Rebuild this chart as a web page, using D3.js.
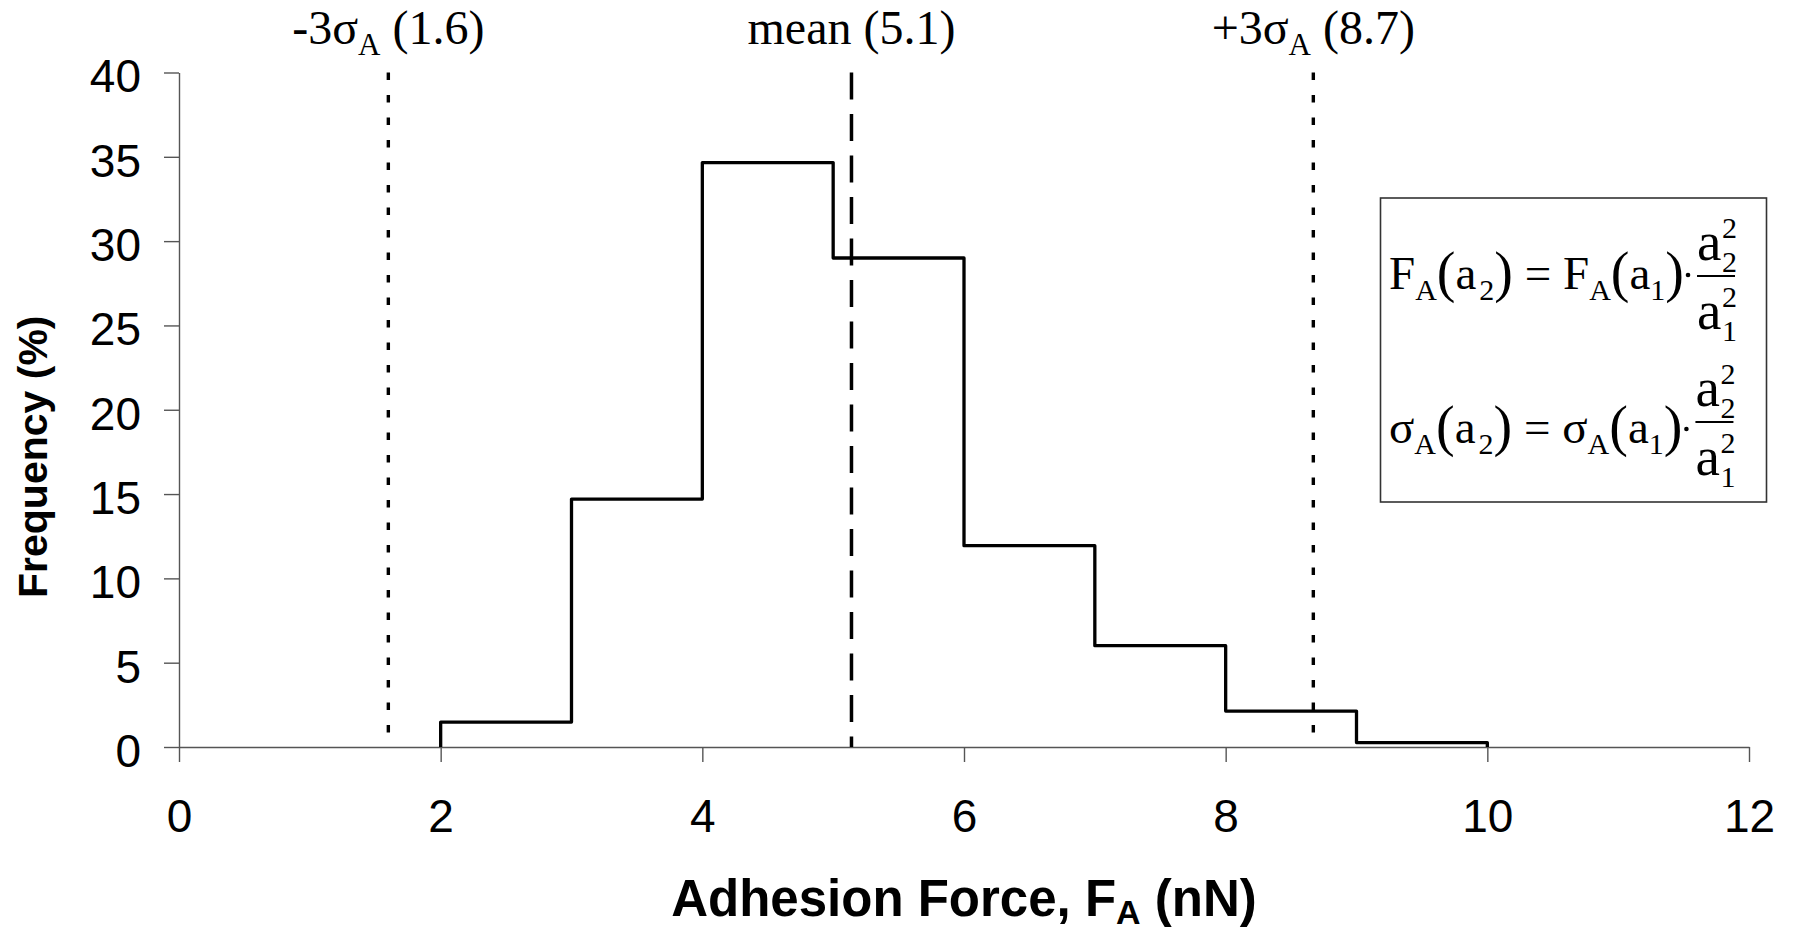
<!DOCTYPE html>
<html>
<head>
<meta charset="utf-8">
<script src="https://cdn.jsdelivr.net/npm/d3@7"></script>
<style>
  html, body { margin: 0; padding: 0; background: #fff; }
  svg { display: block; }
</style>
</head>
<body>
<svg id="chart" width="1802" height="931"></svg>
<script>
// ---- data ----
const binStarts = [2, 3, 4, 5, 6, 7, 8, 9];
const binEnd = 10;
const frequency = [1.48, 14.7, 34.66, 29.0, 11.94, 6.01, 2.13, 0.26];
const xTicks = [0, 2, 4, 6, 8, 10, 12];
const yTicks = [0, 5, 10, 15, 20, 25, 30, 35, 40];
const refValues = [1.6, 5.14, 8.67];
const refNames = ["-3σ", "mean", "+3σ"];
const refShown = ["1.6", "5.1", "8.7"];
const refSub = ["A", "", "A"];
const xTitle = ["Adhesion Force, F", "A", " (nN)"];
const yTitle = "Frequency (%)";

// ---- layout ----
const svg = d3.select("#chart");
const x = d3.scaleLinear().domain([0, 12]).range([179, 1749]);
const y = d3.scaleLinear().domain([0, 40]).range([747, 72.5]);
const axisColor = "#555";

// axes
const gx = svg.append("g").attr("transform", `translate(0,${y(0)})`)
  .call(d3.axisBottom(x).tickValues(xTicks).tickSize(15).tickSizeOuter(0).tickPadding(37));
const gy = svg.append("g").attr("transform", `translate(${x(0)},0)`)
  .call(d3.axisLeft(y).tickValues(yTicks).tickSize(15).tickSizeOuter(0).tickPadding(23));
[gx, gy].forEach(g => {
  g.selectAll("path.domain").attr("stroke", axisColor).attr("stroke-width", 1.4);
  g.selectAll(".tick line").attr("stroke", axisColor).attr("stroke-width", 1.4);
  g.selectAll(".tick text").attr("fill", "#000")
    .style("font-family", "'Liberation Sans', Arial, sans-serif").style("font-size", "46px");
});
gy.selectAll(".tick text").attr("dy", "0.42em");
gx.selectAll(".tick text").attr("dy", "0.71em");

// reference lines
refValues.forEach((v, i) => {
  svg.append("line")
    .attr("x1", x(v)).attr("x2", x(v)).attr("y1", y(40)).attr("y2", y(0))
    .attr("stroke", "#000").attr("stroke-width", i === 1 ? 3.5 : 3.4)
    .attr("stroke-dasharray", i === 1 ? "27,14.5" : "7.5,15");
  const t = svg.append("text")
    .attr("x", x(v)).attr("y", 44).attr("text-anchor", "middle")
    .style("font-family", "'Liberation Serif', 'Times New Roman', serif")
    .style("font-size", "48px").attr("fill", "#000");
  t.append("tspan").text(refNames[i]);
  if (refSub[i]) {
    t.append("tspan").text(refSub[i]).style("font-size", "31px").attr("dy", 11);
    t.append("tspan").text(" (" + refShown[i] + ")").attr("dy", -11);
  } else {
    t.append("tspan").text(" (" + refShown[i] + ")");
  }
});

// histogram outline (step)
const pts = [[binStarts[0], 0]];
binStarts.forEach((b, i) => pts.push([i + 1 < binStarts.length ? binStarts[i + 1] : binEnd, frequency[i]]));
pts.push([binEnd, 0]);
const line = d3.line().x(d => x(d[0])).y(d => y(d[1])).curve(d3.curveStepBefore);
svg.append("path").attr("d", line(pts))
  .attr("fill", "none").attr("stroke", "#000").attr("stroke-width", 3.3)
  .attr("stroke-linejoin", "round");

// axis titles
const xt = svg.append("text").attr("x", (x(0) + x(12)) / 2).attr("y", 916)
  .attr("text-anchor", "middle")
  .style("font-family", "'Liberation Sans', Arial, sans-serif")
  .style("font-weight", "bold").style("font-size", "51px").attr("fill", "#000");
xt.append("tspan").text(xTitle[0]);
xt.append("tspan").text(xTitle[1]).style("font-size", "34px").attr("dy", 8);
xt.append("tspan").text(xTitle[2]).attr("dy", -8);

svg.append("text")
  .attr("transform", `translate(47,${(y(0) + y(40)) / 2 + 47}) rotate(-90)`)
  .attr("text-anchor", "middle")
  .style("font-family", "'Liberation Sans', Arial, sans-serif")
  .style("font-weight", "bold").style("font-size", "41px").attr("fill", "#000")
  .text(yTitle);

// formula box
svg.append("rect").attr("x", 1380.5).attr("y", 198).attr("width", 386).attr("height", 304)
  .attr("fill", "#fff").attr("stroke", "#333").attr("stroke-width", 1.6);

const serif = "'Liberation Serif', 'Times New Roman', serif";
function formula(lead, base, fr) {
  const t = svg.append("text").attr("x", 1389).attr("y", base)
    .style("font-family", serif).style("font-size", "47px").attr("fill", "#000");
  // [text, kind] kind: 0 main, 1 subscript, 2 tall paren
  const parts = [[lead, 0], ["A", 1], ["(", 2], ["a", 0], ["2", 1], [")", 2], [" = ", 0],
                 [lead, 0], ["A", 1], ["(", 2], ["a", 0], ["1", 1], [")", 2]];
  let cur = 0;
  parts.forEach(([s, k]) => {
    const sp = t.append("tspan").text(s);
    const want = k === 1 ? 11 : (k === 2 ? 2 : 0);
    sp.attr("dy", want - cur); cur = want;
    if (k === 1) sp.style("font-size", "30px");
    if (k === 2) sp.style("font-size", "56px");
    if (k === 1 && s === "2") sp.attr("dx", 3);
  });
  const end = 1389 + t.node().getComputedTextLength();
  svg.append("circle").attr("cx", end + 7).attr("cy", base - 14).attr("r", 2.3).attr("fill", "#000");
  const fx = end + 16;
  const barW = 38;
  svg.append("line").attr("x1", fx).attr("x2", fx + barW).attr("y1", fr.bar).attr("y2", fr.bar)
    .attr("stroke", "#000").attr("stroke-width", 1.8);
  [[fr.num, "2"], [fr.den, "1"]].forEach(([b, s]) => {
    svg.append("text").attr("x", fx).attr("y", b).text("a")
      .style("font-family", serif).style("font-size", "55px").attr("fill", "#000");
    svg.append("text").attr("x", fx + 25).attr("y", b - 22).text("2")
      .style("font-family", serif).style("font-size", "30px").attr("fill", "#000");
    svg.append("text").attr("x", fx + 25).attr("y", b + 12).text(s)
      .style("font-family", serif).style("font-size", "30px").attr("fill", "#000");
  });
}
formula("F", 289, { bar: 276, num: 260, den: 329 });
formula("σ", 443, { bar: 422, num: 406, den: 475 });
</script>
</body>
</html>
